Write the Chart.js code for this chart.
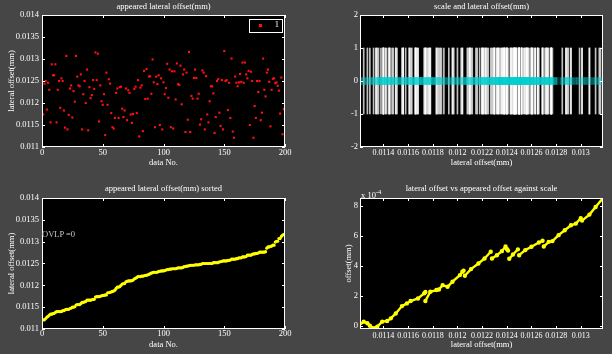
<!DOCTYPE html>
<html>
<head>
<meta charset="utf-8">
<script src="https://cdn.jsdelivr.net/npm/chart.js@4.4.1/dist/chart.umd.min.js"></script>
<style>
  body {
    margin: 0;
    width: 612px;
    height: 354px;
    background: #464646;
    position: relative;
    overflow: hidden;
    font-family: "Liberation Serif", serif;
  }
  canvas {
    position: absolute;
  }
  .note {
    position: absolute;
    color: #ffffff;
    font-size: 8.5px;
    line-height: 10px;
    white-space: nowrap;
  }
  .note sup {
    font-size: 6.5px;
    vertical-align: 4px;
  }
</style>
</head>
<body>
<!-- each canvas is as wide as needed to centre its title over the plot box -->
<canvas id="scatter" width="327" height="177" style="left:0;top:0"></canvas>
<canvas id="scale" width="351" height="177" style="left:306px;top:0"></canvas>
<canvas id="sorted" width="327" height="177" style="left:0;top:177px"></canvas>
<canvas id="against" width="351" height="177" style="left:306px;top:177px"></canvas>
<div class="note" id="ovlp" style="left:42px;top:229px;color:#c8c8c8">OVLP =0</div>
<div class="note" id="exponent" style="left:361px;top:187px">x 10<sup>-4</sup></div>
<script>
// appeared lateral offset (mm), data No. 1..200
const offsets = [
  0.01174, 0.01244, 0.0125, 0.01185, 0.01246, 0.0123, 0.01156, 0.01288, 0.01263, 0.01263,
  0.01288, 0.01156, 0.0123, 0.0125, 0.01189, 0.01256, 0.0125, 0.01183, 0.01144, 0.01307,
  0.0114, 0.01173, 0.01233, 0.0124, 0.01167, 0.01227, 0.01203, 0.01307, 0.0126, 0.0124,
  0.01238, 0.01265, 0.0114, 0.0122, 0.0125, 0.012, 0.01276, 0.01138, 0.01236, 0.01211,
  0.01218, 0.01252, 0.01232, 0.01315, 0.01252, 0.01312, 0.01158, 0.0124, 0.01204, 0.01196,
  0.0122, 0.01127, 0.01269, 0.01196, 0.01254, 0.01244, 0.01177, 0.01145, 0.01142, 0.01166,
  0.01223, 0.01233, 0.01166, 0.01236, 0.01237, 0.01187, 0.01168, 0.01183, 0.01233, 0.01161,
  0.01229, 0.01223, 0.01174, 0.01155, 0.01175, 0.01232, 0.01237, 0.01177, 0.01252, 0.01124,
  0.01235, 0.0124, 0.01136, 0.01273, 0.01209, 0.01277, 0.0121, 0.0126, 0.01261, 0.01221,
  0.01299, 0.01247, 0.01145, 0.0126, 0.01243, 0.01263, 0.0115, 0.01256, 0.0114, 0.01247,
  0.0122, 0.01234, 0.01289, 0.01212, 0.01276, 0.01145, 0.01272, 0.01142, 0.01272, 0.01208,
  0.0129, 0.01243, 0.01241, 0.01285, 0.01197, 0.01265, 0.01276, 0.01134, 0.01269, 0.01162,
  0.01316, 0.01134, 0.01216, 0.0121, 0.01257, 0.01276, 0.01257, 0.0121, 0.01221, 0.01151,
  0.01163, 0.01274, 0.01269, 0.0114, 0.01261, 0.01174, 0.01156, 0.01204, 0.01238, 0.01238,
  0.01222, 0.01132, 0.01168, 0.0125, 0.01254, 0.01178, 0.01148, 0.01252, 0.0114, 0.01318,
  0.0125, 0.01252, 0.01184, 0.01246, 0.01166, 0.01301, 0.01135, 0.01121, 0.0126, 0.01246,
  0.01238, 0.01247, 0.01266, 0.01248, 0.01292, 0.01246, 0.01292, 0.01265, 0.01256, 0.01273,
  0.0115, 0.01271, 0.0125, 0.01121, 0.01193, 0.01166, 0.0125, 0.01225, 0.0125, 0.01161,
  0.01178, 0.01301, 0.0123, 0.01215, 0.01269, 0.01276, 0.01248, 0.01147, 0.0123, 0.01255,
  0.01256, 0.01245, 0.01247, 0.01239, 0.01228, 0.01176, 0.01258, 0.01129, 0.01186, 0.01224,
];

// lateral offset vs appeared offset against scale (y in units of 1e-4 mm), null = break
const againstX = [
  0.0112, 0.01124, 0.01127, 0.01129, 0.01133, 0.01135, 0.01139, 0.01143, 0.01146, 0.0115,
  0.01155, 0.01159, 0.01162, 0.01168, 0.01173, 0.01174, 0.01174,
  0.01174, 0.01178, 0.01183, 0.01185, 0.01188, 0.01192, 0.01196, 0.01202, 0.01204, 0.01205, 0.01205,
  0.01206, 0.01211, 0.01217, 0.01222, 0.01227, 0.01227,
  0.01228, 0.01232, 0.01236, 0.01239, 0.01239,
  0.0124, 0.01241, 0.01241,
  0.01242, 0.01245, 0.01249, 0.01249,
  0.0125, 0.01255, 0.0126, 0.01266, 0.01269, 0.01269,
  0.0127, 0.01274, 0.01277, 0.01282, 0.01287, 0.01292, 0.01296, 0.013, 0.013,
  0.01301, 0.01307, 0.01312, 0.01318,
];
const againstY = [
  0.02, 0.29, 0.18, 0.02, -0.15, -0.04, 0.29, 0.33, 0.51, 0.84,
  1.33, 1.51, 1.67, 1.84, 2.18, 2.27, null,
  1.67, 2.29, 2.4, 2.44, 2.73, 2.62, 2.96, 3.4, 3.62, 3.7, null,
  3.36, 3.8, 4.18, 4.51, 4.96, null,
  4.51, 4.73, 5.0, 5.31, null,
  5.15, 5.04, null,
  4.49, 4.78, 5.12, null,
  4.73, 5.07, 5.29, 5.58, 5.69, null,
  5.31, 5.62, 5.67, 6.07, 6.4, 6.73, 6.84, 7.2, null,
  7.04, 7.44, 7.95, 8.55,
];

const indexTicks = { min: 0, max: 200, step: 50 };
const offsetTicks = { min: 0.011, max: 0.014, step: 0.0005 };
const scaleTicks = { min: -2, max: 2, step: 1 };
const mmStep = 0.0002;
const againstTicks = { min: -0.2, max: 8.55, step: 2 };

const fontFamily = "'Liberation Serif', 'Times New Roman', serif";
const fontSize = 8.5;
Chart.defaults.font.family = fontFamily;
Chart.defaults.font.size = fontSize;
Chart.defaults.color = "#ffffff";
Chart.defaults.animation = false;

const fmt = (v) => String(parseFloat(Number(v).toPrecision(6)));

// small red square for the legend sample, centred in a MATLAB-wide legend slot
const legendMark = document.createElement("canvas");
legendMark.width = 3;
legendMark.height = 3;
legendMark.getContext("2d").fillStyle = "#ff1010";
legendMark.getContext("2d").fillRect(0, 0, 3, 3);

// black plot area, white box and inward ticks on all four sides
const matlabAxes = {
  id: "matlabAxes",
  beforeDraw(chart) {
    const { ctx, chartArea: a } = chart;
    ctx.save();
    ctx.fillStyle = "#000000";
    ctx.fillRect(a.left, a.top, a.right - a.left, a.bottom - a.top);
    ctx.restore();
  },
  afterDraw(chart) {
    const { ctx, chartArea: a, scales } = chart;
    const len = 3;
    ctx.save();
    ctx.strokeStyle = "#ffffff";
    ctx.lineWidth = 1;
    ctx.beginPath();
    scales.x.ticks.forEach((t) => {
      const px = Math.round(scales.x.getPixelForValue(t.value)) + 0.5;
      ctx.moveTo(px, a.bottom);
      ctx.lineTo(px, a.bottom - len);
      ctx.moveTo(px, a.top);
      ctx.lineTo(px, a.top + len);
    });
    scales.y.ticks.forEach((t) => {
      const py = Math.round(scales.y.getPixelForValue(t.value)) + 0.5;
      ctx.moveTo(a.left, py);
      ctx.lineTo(a.left + len, py);
      ctx.moveTo(a.right, py);
      ctx.lineTo(a.right - len, py);
    });
    ctx.stroke();
    ctx.strokeRect(Math.round(a.left) + 0.5, Math.round(a.top) + 0.5,
      Math.round(a.right - a.left) - 1, Math.round(a.bottom - a.top) - 1);
    const lg = chart.legend;
    if (lg && lg.boxW) {
      ctx.strokeRect(Math.round(lg.left) + 0.5, Math.round(lg.top) + 0.5,
        Math.round(lg.boxW), Math.round(lg.boxH));
    }
    ctx.restore();
  },
  afterLayout(chart) {
    // move the chartArea legend to the top right corner, like MATLAB's
    const lg = chart.legend;
    if (!lg || !chart.options.plugins.legend.display || !lg.legendHitBoxes.length) return;
    const a = chart.chartArea;
    const pad = chart.options.plugins.legend.labels.padding;
    const hb = lg.legendHitBoxes[0];
    lg.boxW = hb.width + pad * 2;
    lg.boxH = hb.height + pad * 2;
    lg.left = a.right - lg.boxW - 4;
    lg.right = lg.left + lg.boxW;
    lg.top = a.top + 4;
    lg.bottom = lg.top + lg.boxH;
  },
};

function axis(ticks, opts) {
  return {
    type: "linear",
    min: ticks.min,
    max: ticks.max,
    offset: false,
    grid: { display: false, drawTicks: false, offset: false },
    border: { display: false },
    ticks: {
      stepSize: ticks.step,
      includeBounds: false,
      autoSkip: false,
      maxRotation: 0,
      padding: opts.tickPad,
      color: "#ffffff",
      font: { size: opts.tickSize || fontSize },
      callback: fmt,
    },
    title: {
      display: !!opts.title,
      text: opts.title || "",
      color: "#ffffff",
      font: { size: fontSize },
      padding: opts.titlePad || 0,
    },
    afterFit(scale) {
      if (scale.isHorizontal()) scale.height = opts.size;
      else scale.width = opts.size;
    },
  };
}

function options(cfg) {
  return {
    responsive: false,
    layout: { padding: 0 },
    plugins: {
      title: {
        display: true,
        text: cfg.title,
        color: "#ffffff",
        font: { size: fontSize, weight: "normal" },
        padding: cfg.titlePad,
      },
      legend: { display: false },
      tooltip: { enabled: false },
    },
    scales: {
      x: cfg.x,
      y: cfg.y,
      // empty right-hand spacer, so the title centres over the plot box
      spacer: {
        type: "linear",
        position: "right",
        display: true,
        grid: { display: false },
        border: { display: false },
        ticks: { display: false },
        afterFit(scale) {
          scale.width = cfg.right;
        },
      },
    },
  };
}

const xMin = Math.min(...offsets);
const xMax = Math.max(...offsets);
const mmTicks = { min: xMin, max: xMax, step: mmStep };

// 1: appeared lateral offset
const scatterOpts = options({
  title: "appeared lateral offset(mm)",
  titlePad: { top: 1.5, bottom: 3.3 },
  right: 42,
  x: axis(indexTicks, { size: 30, tickPad: 1, title: "data No.", titlePad: { top: 0, bottom: 8.8 } }),
  y: axis(offsetTicks, { size: 42, tickPad: 3, title: "lateral offset(mm)", titlePad: { top: 6.6, bottom: 0 } }),
});
scatterOpts.plugins.legend = {
  display: true,
  position: "chartArea",
  align: "start",
  labels: {
    usePointStyle: true,
    pointStyle: legendMark,
    pointStyleWidth: 20,
    boxHeight: 3,
    padding: 2,
    color: "#ffffff",
    font: { size: fontSize },
  },
};
new Chart(document.getElementById("scatter"), {
  type: "scatter",
  data: {
    datasets: [{
      label: "1",
      data: offsets.map((v, i) => ({ x: i + 1, y: v })),
      pointStyle: "rect",
      pointRadius: 1.5,
      backgroundColor: "#ff1010",
      borderColor: "#ff1010",
      borderWidth: 0,
    }],
  },
  options: scatterOpts,
  plugins: [matlabAxes],
});

// 2: scale and lateral offset
new Chart(document.getElementById("scale"), {
  type: "bar",
  data: {
    datasets: [
      {
        type: "scatter",
        label: "offset",
        data: offsets.map((v) => ({ x: v, y: 0 })),
        pointStyle: "line",
        pointRadius: 6,
        borderWidth: 7.5,
        borderColor: "rgba(0, 205, 205, 0.17)",
        backgroundColor: "rgba(0, 205, 205, 0.17)",
        order: 0,
      },
      {
        type: "bar",
        label: "scale",
        data: offsets.map((v) => ({ x: v, y: [-1, 1] })),
        backgroundColor: "rgba(255, 255, 255, 0.75)",
        barThickness: 1,
        order: 1,
      },
    ],
  },
  options: options({
    title: "scale and lateral offset(mm)",
    titlePad: { top: 1.5, bottom: 3.3 },
    right: 54,
    x: axis(mmTicks, { size: 30, tickPad: 1, tickSize: 8, title: "lateral offset(mm)", titlePad: { top: 0, bottom: 8.8 } }),
    y: axis(scaleTicks, { size: 54, tickPad: 2 }),
  }),
  plugins: [matlabAxes],
});

// 3: sorted
const sorted = [...offsets].sort((a, b) => a - b);
new Chart(document.getElementById("sorted"), {
  type: "scatter",
  data: {
    datasets: [{
      label: "sorted",
      data: sorted.map((v, i) => ({ x: i + 1, y: v })),
      pointRadius: 1.6,
      backgroundColor: "#ffff00",
      borderColor: "#ffff00",
      borderWidth: 0,
    }],
  },
  options: options({
    title: "appeared lateral offset(mm) sorted",
    titlePad: { top: 6.5, bottom: 4.3 },
    right: 42,
    x: axis(indexTicks, { size: 25, tickPad: 0, title: "data No.", titlePad: { top: 0, bottom: 3.8 } }),
    y: axis(offsetTicks, { size: 42, tickPad: 3, title: "lateral offset(mm)", titlePad: { top: 6.6, bottom: 0 } }),
  }),
  plugins: [matlabAxes],
});

// 4: lateral offset vs appeared offset against scale
new Chart(document.getElementById("against"), {
  type: "scatter",
  data: {
    datasets: [{
      label: "against scale",
      data: againstX.map((x, i) => ({ x: x, y: againstY[i] })),
      showLine: true,
      spanGaps: false,
      borderColor: "#ffff00",
      borderWidth: 2.4,
      pointRadius: 1,
      backgroundColor: "#ffff00",
    }],
  },
  options: options({
    title: "lateral offset vs appeared offset against scale",
    titlePad: { top: 6.5, bottom: 4.3 },
    right: 54,
    x: axis(mmTicks, { size: 25, tickPad: 2, tickSize: 8, title: "lateral offset(mm)", titlePad: { top: 0, bottom: 3.8 } }),
    y: axis(againstTicks, { size: 54, tickPad: 2, title: "offset(mm)", titlePad: { top: 37.6, bottom: 0 } }),
  }),
  plugins: [matlabAxes],
});
</script>
</body>
</html>
